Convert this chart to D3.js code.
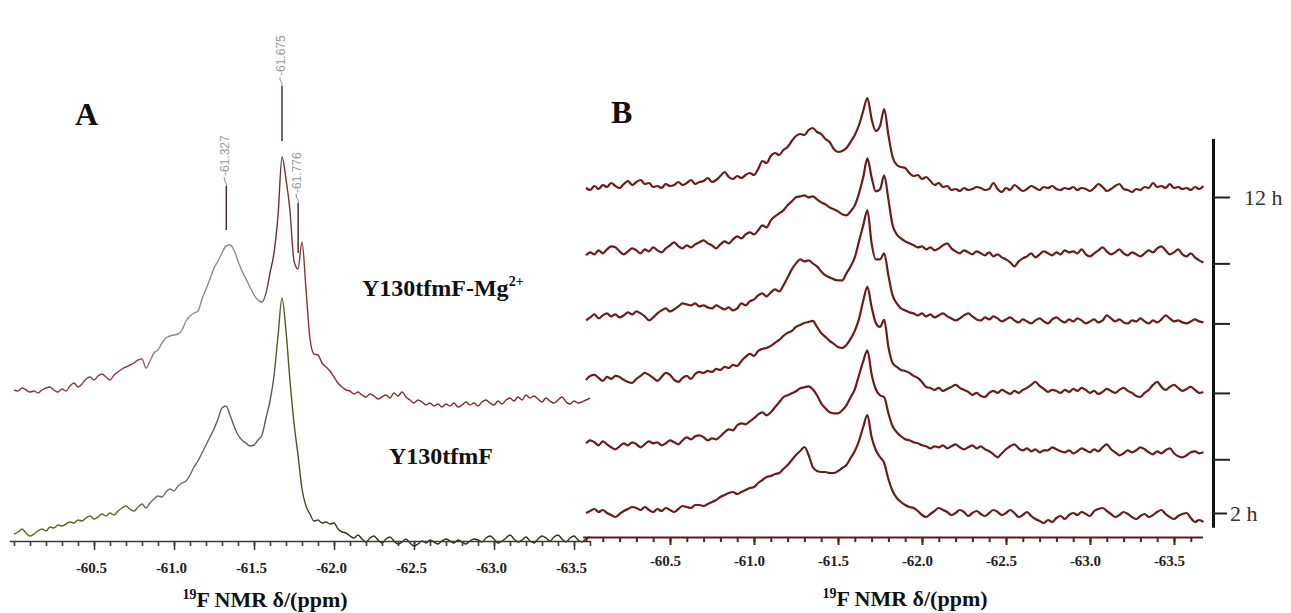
<!DOCTYPE html>
<html>
<head>
<meta charset="utf-8">
<script src="https://cdn.jsdelivr.net/npm/d3@7"></script>
<style>
  body { margin: 0; background: #fff; }
  svg { display: block; }
</style>
</head>
<body>
<svg id="chart" width="1291" height="613"></svg>
<script>
// ---- data -------------------------------------------------------------
// Spectra are sampled on a uniform chemical-shift grid (ppm).
const shiftStart = -60.0;
const shiftStep = 0.025;

// Panel A: Y130tfmF with Mg2+ (upper trace) and without (lower trace), a.u.
const mgSpectrum = [
  11,10,13,11,9,10,8,11,13,14, 11,9,12,10,15,18,14,17,22,24,
  21,25,27,24,21,26,29,32,34,36, 38,41,42,33,40,48,51,58,63,65,
  66,67,71,80,85,88,90,102,112,122, 133,140,148,155,156,151,140,130,122,114,
  106,101,99,108,128,148,185,244,222,190, 140,132,159,112,62,47,46,38,34,30,
  24,18,14,11,10,7,9,6,4,7, 5,2,4,6,3,8,5,9,4,1,
  -2,1,-1,-4,-2,-5,-3,-6,-3,-5, -2,-6,-4,-1,-4,-2,-5,-1,1,-2,
  -4,0,-3,1,3,0,4,1,6,3, 5,2,-1,3,0,-2,1,4,-1,-3,
  0,-2,-1,1,3
];
const apoSpectrum = [
  7,9,12,8,5,7,10,12,10,14, 13,16,15,17,19,18,21,20,23,25,
  22,24,27,25,28,26,30,33,35,32, 30,34,37,33,38,42,45,44,49,52,
  50,55,58,60,66,74,80,88,96,104, 112,122,133,135,126,115,106,101,98,95,
  96,101,106,123,140,165,205,243,210,160, 118,86,52,35,27,20,21,18,19,17,
  18,12,9,8,5,3,6,2,-1,3, 5,1,-2,2,4,0,-3,-1,2,-2,
  -5,-3,0,-2,1,-1,-3,0,2,0, -2,1,-1,-3,0,2,1,-1,3,5,
  2,-2,0,3,6,2,-1,1,4,0, -2,2,5,3,0,4,6,2,-1,3,
  5,1,-1,2,4
];
const mgBaseline = 140;   // vertical offset of the Mg2+ trace, a.u.
const apoBaseline = 0;

const peakShifts = [-61.327, -61.675, -61.776];
const peakLabels = ["-61.327", "-61.675", "-61.776"];

// Panel B: time series of the Mg2+ sample (hours after mixing)
const timeHours = [2, 3.7, 5.8, 8.0, 9.9, 12];
const timeLabels = ["2 h", "", "", "", "", "12 h"];

const spectrum2h = [
  0,2,4,1,3,0,-2,-4,-1,2, 4,6,5,3,6,3,1,4,2,5,
  3,1,4,7,6,5,8,8,7,9, 11,13,16,18,20,21,19,21,23,25,
  26,30,33,36,37,39,40,44,48,53, 58,62,66,58,46,42,41,41,40,40,
  42,45,48,55,62,72,86,98,76,63, 56,50,34,22,15,11,8,6,5,2,
  -2,-4,-1,2,5,3,1,-2,0,3, 1,-3,0,2,-1,-3,0,3,1,-2,
  0,3,0,-4,-2,1,-3,-6,-8,-10, -7,-9,-5,-3,-6,-2,0,-2,1,-1,
  -3,2,4,5,2,-1,-4,-2,1,-1, -4,-6,-3,-1,-4,-2,1,3,-1,-4,
  -6,-3,-1,0,-5,-9,-7,-9
];
const spectrum4h = [
  16,19,17,14,18,15,12,10,13,16, 14,17,15,12,15,18,16,17,14,16,
  19,17,15,19,22,20,23,24,22,19, 21,20,23,27,30,29,34,36,35,38,
  41,45,47,44,47,52,57,62,64,66, 68,71,72,73,70,64,56,51,47,46,
  46,49,54,62,70,84,98,109,85,70, 64,62,46,33,27,23,20,19,17,16,
  14,13,11,13,12,14,11,13,15,12, 10,12,14,11,13,10,8,5,2,6,
  10,13,15,11,9,11,8,10,7,9, 9,12,10,8,7,9,6,8,11,9,
  7,10,8,12,15,10,7,4,6,9, 7,9,12,10,7,5,8,6,9,11,
  6,3,2,4,7,8,6,7
];
const spectrum6h = [
  13,17,18,15,12,16,14,17,16,13, 11,10,14,17,20,18,15,12,16,20,
  18,13,11,15,17,14,19,21,20,22, 21,24,23,26,25,28,27,32,36,39,
  37,42,44,45,47,50,53,57,60,62, 66,68,70,71,72,66,60,56,52,49,
  46,45,48,54,62,74,92,106,86,70, 66,73,46,30,26,23,22,20,17,15,
  11,6,5,3,5,2,4,6,8,5, 3,1,-2,0,-3,-4,0,2,0,3,
  1,-1,2,0,3,5,8,11,7,4, 1,3,2,0,3,1,4,2,5,3,
  0,2,-1,1,4,2,0,3,5,2, 0,-3,-4,0,3,8,11,6,3,6,
  8,5,2,4,6,3,0,1
];
const spectrum8h = [
  3,6,9,5,8,10,7,9,6,8, 11,9,12,10,7,3,6,10,13,15,
  12,14,17,20,19,18,20,17,18,16, 15,18,16,14,16,13,15,20,18,22,
  24,28,30,27,31,34,32,38,46,54, 60,64,62,63,60,57,52,48,46,44,
  43,43,50,57,66,82,98,113,80,64, 64,70,48,28,20,15,13,11,10,8,
  10,7,9,6,8,10,7,5,3,5, 8,10,7,4,3,6,4,7,5,2,
  4,6,3,1,4,2,0,3,5,2, 0,4,6,3,1,4,2,5,3,0,
  2,4,1,3,8,5,2,4,1,0, 3,2,5,2,0,3,1,4,8,5,
  2,3,1,0,2,4,2,1
];
const spectrum10h = [
  8,11,9,13,10,14,17,16,12,9, 12,15,13,10,14,12,16,13,11,15,
  18,21,17,15,18,16,19,21,23,20, 18,15,19,22,20,24,27,25,29,31,
  29,33,38,36,43,47,50,53,58,62, 66,67,68,66,67,64,61,59,56,54,
  52,49,48,52,58,70,86,105,86,72, 74,88,64,38,29,25,22,20,18,16,
  17,14,16,13,15,18,20,15,12,10, 13,11,9,12,10,8,11,7,9,6,
  4,1,-3,2,5,7,10,6,9,12, 10,8,11,9,13,11,12,10,14,9,
  7,10,13,16,12,9,11,14,10,8, 11,9,7,10,13,11,15,17,13,9,
  11,14,9,7,10,6,3,1
];
const spectrum12h = [
  9,7,11,8,12,10,14,11,9,13, 16,12,15,17,13,14,10,11,9,13,
  11,12,15,12,14,17,13,15,16,19, 15,17,21,25,20,18,21,19,22,24,
  22,28,36,34,41,44,42,47,50,56, 61,63,62,67,69,65,63,58,55,48,
  45,46,49,55,62,72,86,99,78,66, 71,88,62,40,32,30,29,24,21,22,
  18,20,16,12,14,10,11,7,8,6, 9,7,8,10,9,7,8,14,8,5,
  9,7,12,9,6,8,11,9,7,10, 9,11,8,7,9,8,10,7,9,8,
  6,9,13,10,6,8,11,13,8,7, 5,8,7,10,9,14,10,11,9,13,
  9,10,8,9,7,10,8,11
];
const timeSeries = [spectrum2h, spectrum4h, spectrum6h, spectrum8h, spectrum10h, spectrum12h];

const shiftTicks = [-60.5, -61.0, -61.5, -62.0, -62.5, -63.0, -63.5];

// ---- helpers ----------------------------------------------------------
const shiftAt = i => (shiftStart * 1000 - i * shiftStep * 1000) / 1000;
const toPoints = values => values.map((v, i) => [shiftAt(i), v]);
const minorTicks = (from, to) => d3.range(0, Math.round((from - to) / 0.1) + 1)
  .map(k => +(from - k * 0.1).toFixed(1));

const svg = d3.select("#chart");
const serif = "'Liberation Serif', 'Times New Roman', serif";

// ---- panel A ----------------------------------------------------------
const xA = d3.scaleLinear().domain([-60.5, -63.5]).range([94, 574]);
const yA = d3.scaleLinear().domain([0, 400]).range([541, 141]);

const defs = svg.append("defs");
function strokeGradient(id, stops) {
  const g = defs.append("linearGradient").attr("id", id)
    .attr("gradientUnits", "userSpaceOnUse")
    .attr("x1", 0).attr("x2", 600).attr("y1", 0).attr("y2", 0);
  stops.forEach(([o, c]) => g.append("stop").attr("offset", o).attr("stop-color", c));
}
strokeGradient("mgStroke", [[0, "#8c3c3c"], [0.22, "#8c3c3c"], [0.26, "#8d8d8d"],
  [0.43, "#8a8a8a"], [0.45, "#5a3434"], [0.5, "#8a3232"], [1, "#7a2828"]]);
strokeGradient("apoStroke", [[0, "#5a6a1e"], [0.2, "#5a6a1e"], [0.26, "#6a6a6a"],
  [0.44, "#5a5a5a"], [0.47, "#4a6424"], [0.56, "#2c3a12"], [1, "#27330f"]]);

const lineA = offset => d3.line()
  .curve(d3.curveMonotoneX)
  .x(d => xA(d[0]))
  .y(d => yA(d[1] + offset));

svg.append("path").datum(toPoints(apoSpectrum))
  .attr("d", lineA(apoBaseline))
  .attr("fill", "none").attr("stroke", "url(#apoStroke)")
  .attr("stroke-width", 1.4).attr("stroke-linejoin", "round");
svg.append("path").datum(toPoints(mgSpectrum))
  .attr("d", lineA(mgBaseline))
  .attr("fill", "none").attr("stroke", "url(#mgStroke)")
  .attr("stroke-width", 1.4).attr("stroke-linejoin", "round");

// bottom shift axis of panel A
const axisScaleA = d3.scaleLinear().domain([-59.97, -63.6]).range([xA(-59.97), xA(-63.6)]);
const gA = svg.append("g").attr("transform", "translate(0,541)");
gA.append("g").call(d3.axisBottom(axisScaleA).tickValues(minorTicks(-60.0, -63.6))
  .tickSize(5).tickSizeOuter(0).tickFormat(""));
gA.append("g").call(d3.axisBottom(axisScaleA).tickValues(shiftTicks)
  .tickSize(9).tickSizeOuter(0).tickFormat(d => d.toFixed(1)))
  .call(g => g.select(".domain").remove());
gA.selectAll(".domain, .tick line").attr("stroke", "#3a3a3a").attr("stroke-width", 1.6);
gA.selectAll(".tick text").attr("y", 32).attr("dy", 0).attr("dx", -3)
  .attr("font-family", serif).attr("font-weight", "bold").attr("font-size", 15)
  .attr("fill", "#222");

// peak annotations on the Mg2+ trace
const markLengths = [44, 55, 50];
peakShifts.forEach((p, k) => {
  const i = Math.round((shiftStart - p) / shiftStep);
  const px = xA(p);
  const bottom = yA(mgSpectrum[i] + mgBaseline) - 16;
  const top = bottom - markLengths[k];
  svg.append("line").attr("x1", px).attr("x2", px).attr("y1", top).attr("y2", bottom)
    .attr("stroke", "#4a3030").attr("stroke-width", 1.5);
  svg.append("path")
    .attr("d", `M${px},${top} l0,-3 l-2,-3 l0,-3`)
    .attr("fill", "none").attr("stroke", "#8a8a8a").attr("stroke-width", 1);
  svg.append("text")
    .attr("transform", `translate(${px - 1},${top - 10}) rotate(-90)`)
    .attr("text-anchor", "start").attr("dominant-baseline", "central")
    .attr("font-family", "'Liberation Sans', Arial, sans-serif")
    .attr("font-size", 12).attr("fill", "#9a9a9a")
    .text(peakLabels[k]);
});

svg.append("text").attr("x", 75).attr("y", 125)
  .attr("font-family", serif).attr("font-weight", "bold").attr("font-size", 32)
  .attr("fill", "#111").text("A");

const mgLabel = svg.append("text").attr("x", 362).attr("y", 296)
  .attr("font-family", serif).attr("font-weight", "bold").attr("font-size", 24)
  .attr("fill", "#111");
mgLabel.append("tspan").text("Y130tfmF-Mg");
mgLabel.append("tspan").attr("font-size", 14).attr("dy", -10).text("2+");

svg.append("text").attr("x", 389).attr("y", 464)
  .attr("font-family", serif).attr("font-weight", "bold").attr("font-size", 24)
  .attr("fill", "#111").text("Y130tfmF");

function axisTitle(cx, y) {
  const t = svg.append("text").attr("x", cx).attr("y", y).attr("text-anchor", "middle")
    .attr("font-family", serif).attr("font-weight", "bold").attr("font-size", 22)
    .attr("fill", "#111");
  t.append("tspan").attr("font-size", 14).attr("dy", -8).text("19");
  t.append("tspan").attr("dy", 8).text("F NMR \u03b4/(ppm)");
}
axisTitle(265, 607);

// ---- panel B ----------------------------------------------------------
const xB = d3.scaleLinear().domain([-60.5, -63.5]).range([670, 1174]);
const yTime = d3.scaleLinear().domain([2, 12]).range([513, 197]);
const yInt = d3.scaleLinear().domain([0, 100]).range([0, -100]);

const lineB = d3.line().curve(d3.curveMonotoneX).x(d => xB(d[0])).y(d => yInt(d[1]));
svg.append("g").selectAll("path")
  .data(timeSeries.map((s, k) => ({ t: timeHours[k], pts: toPoints(s) })))
  .join("path")
  .attr("transform", d => `translate(0,${yTime(d.t)})`)
  .attr("d", d => lineB(d.pts))
  .attr("fill", "none").attr("stroke", "#6c1c1c")
  .attr("stroke-width", 2.2).attr("stroke-linejoin", "round");

const axisScaleB = d3.scaleLinear().domain([-59.98, -63.67]).range([xB(-59.98), xB(-63.67)]);
const gB = svg.append("g").attr("transform", "translate(0,537)");
gB.append("g").call(d3.axisBottom(axisScaleB).tickValues(minorTicks(-60.0, -63.6))
  .tickSize(5).tickSizeOuter(0).tickFormat(""));
gB.append("g").call(d3.axisBottom(axisScaleB).tickValues(shiftTicks)
  .tickSize(8).tickSizeOuter(0).tickFormat(d => d.toFixed(1)))
  .call(g => g.select(".domain").remove());
gB.selectAll(".domain, .tick line").attr("stroke", "#5a1c1c").attr("stroke-width", 2);
gB.selectAll(".tick text").attr("y", 29).attr("dy", 0).attr("dx", -5)
  .attr("font-family", serif).attr("font-weight", "bold").attr("font-size", 15)
  .attr("fill", "#222");
axisTitle(905, 606);

// time axis on the right
const timeAxisScale = d3.scaleLinear().domain([1.55, 13.85]).range([yTime(1.55), yTime(13.85)]);
const gT = svg.append("g").attr("transform", "translate(1213,0)");
gT.call(d3.axisRight(timeAxisScale).tickValues(timeHours).tickSize(17).tickSizeOuter(0)
  .tickFormat((d, i) => timeLabels[i]));
gT.select(".domain").attr("stroke", "#111").attr("stroke-width", 3);
gT.selectAll(".tick line").attr("stroke", "#222").attr("stroke-width", 2)
  .attr("x2", d => d === timeHours[0] ? 14 : 17);
gT.selectAll(".tick text")
  .attr("x", d => d === timeHours[0] ? 17 : 31)
  .attr("font-family", serif).attr("font-size", 22).attr("fill", "#333");

svg.append("text").attr("x", 611).attr("y", 123)
  .attr("font-family", serif).attr("font-weight", "bold").attr("font-size", 32)
  .attr("fill", "#111").text("B");
</script>
</body>
</html>
